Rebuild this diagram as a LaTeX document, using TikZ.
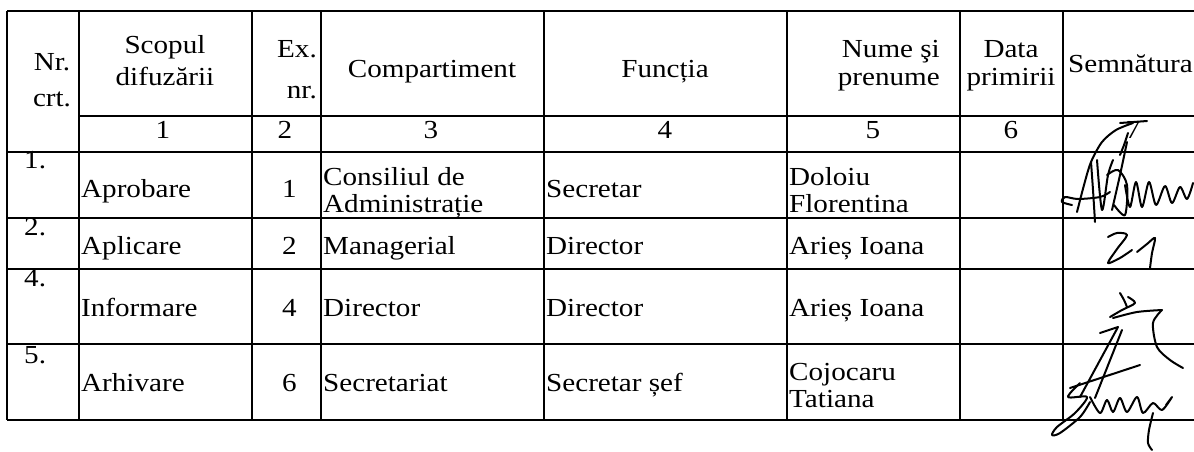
\documentclass[tikz,border=0pt]{standalone}
\usepackage{fontspec}
\setmainfont{Liberation Serif}[FakeStretch=1.12]

\tikzset{
  grid/.style={line width=1.6pt},
  txt/.style={inner sep=0pt, font=\fontsize{26}{30}\selectfont},
  lt/.style={txt, anchor=base west},
  ct/.style={txt, anchor=base},
  rt/.style={txt, anchor=base east},
  sig/.style={line width=2pt, line cap=round, line join=round},
}

\begin{document}
\begin{tikzpicture}[x=1pt,y=-1pt]
   \useasboundingbox (0,0) rectangle (1194,451);
   \foreach \y in {11,152,218,269,344,420} \draw[grid] (7,\y) -- (1194,\y);
   \draw[grid] (79,116) -- (1194,116);
   \foreach \x in {7,79,252,321,544,787,960,1063} \draw[grid] (\x,11) -- (\x,420);

   \node[ct] (nr)   at (52,70)   {Nr.};
   \node[ct] (crt)  at (52,106)  {crt.};
   \node[ct] (scop) at (165,53)  {Scopul};
   \node[ct] (dif)  at (165,85)  {difuzării};
   \node[rt] (ex)   at (317,57)  {Ex.};
   \node[rt] (exnr) at (317,98)  {nr.};
   \node[ct] (comp) at (432,77)  {Compartiment};
   \node[ct] (func) at (665,77)  {Funcția};
   \node[rt] (nume) at (940,57)  {Nume şi};
   \node[rt] (pren) at (940,85)  {prenume};
   \node[ct] (data) at (1011,57) {Data};
   \node[ct] (prim) at (1011,85) {primirii};
   \node[lt] (semn) at (1068,72) {Semnătura};
   \foreach \x/\n in {163/1,285/2,431/3,665/4,873/5,1011/6,1133/7}
      \node[ct] (col\n) at (\x,138) {\n};

   \node[lt] (nr1) at (24,168)  {1.};
   \node[lt] (sc1) at (81,197)  {Aprobare};
   \node[rt] (ex1) at (297,197) {1};
   \node[lt] (ca1) at (323,185) {Consiliul de};
   \node[lt] (cb1) at (323,212) {Administrație};
   \node[lt] (fn1) at (546,197) {Secretar};
   \node[lt] (pa1) at (789,185) {Doloiu};
   \node[lt] (pb1) at (789,212) {Florentina};

   \node[lt] (nr2) at (24,235)  {2.};
   \node[lt] (sc2) at (81,254)  {Aplicare};
   \node[rt] (ex2) at (297,254) {2};
   \node[lt] (cp2) at (323,254) {Managerial};
   \node[lt] (fn2) at (546,254) {Director};
   \node[lt] (pn2) at (789,254) {Arieș Ioana};

   \node[lt] (nr3) at (24,286)  {4.};
   \node[lt] (sc3) at (81,316)  {Informare};
   \node[rt] (ex3) at (297,316) {4};
   \node[lt] (cp3) at (323,316) {Director};
   \node[lt] (fn3) at (546,316) {Director};
   \node[lt] (pn3) at (789,316) {Arieș Ioana};

   \node[lt] (nr4) at (24,363)  {5.};
   \node[lt] (sc4) at (81,391)  {Arhivare};
   \node[rt] (ex4) at (297,391) {6};
   \node[lt] (cp4) at (323,391) {Secretariat};
   \node[lt] (fn4) at (546,391) {Secretar șef};
   \node[lt] (pa4) at (789,380) {Cojocaru};
   \node[lt] (pb4) at (789,407) {Tatiana};

   \draw[sig] plot[smooth] coordinates {(1077,212) (1084,185) (1091,162) (1102,142) (1116,130) (1133,123)};
   \draw[sig] (1120,123) -- (1147,121);
   \draw[sig] plot[smooth] coordinates {(1128,133) (1124,145) (1120,155)};
   \draw[sig] plot[smooth] coordinates {(1091,162) (1093,190) (1095,222)};
   \draw[sig] plot[smooth] coordinates {(1072,205) (1062,202) (1065,197) (1078,199) (1100,197) (1110,192)};
   \draw[sig] plot[smooth] coordinates {(1097,160) (1102,210) (1108,175) (1113,160)};
   \draw[sig] plot[smooth] coordinates {(1127,142) (1120,175) (1112,210)};
   \draw[sig] plot[smooth] coordinates {(1107,175) (1118,170) (1127,185) (1125,215) (1114,205)};
   \draw[sig] plot[smooth] coordinates {(1125,185) (1130,207) (1136,182) (1142,207) (1149,182) (1156,205) (1165,186) (1172,203) (1180,187) (1187,199) (1193,183)};

   \draw[sig] plot[smooth] coordinates {(1108,237) (1117,233) (1127,235) (1117,249) (1108,263) (1120,258) (1132,250)};
   \draw[sig] plot[smooth] coordinates {(1137,252) (1147,244) (1155,238) (1152,253) (1150,268)};

   \draw[sig] plot[smooth] coordinates {(1120,293) (1124,300) (1127,307)};
   \draw[sig] plot[smooth] coordinates {(1128,297) (1135,303) (1122,310) (1110,317)};
   \draw[sig] plot[smooth] coordinates {(1113,318) (1137,312) (1162,310)};
   \draw[sig] plot[smooth] coordinates {(1162,310) (1153,323) (1157,347) (1170,360) (1183,368)};
   \draw[sig] (1100,333) -- (1118,327) -- (1080,397);
   \draw[sig] (1122,330) -- (1095,398);
   \draw[sig] (1070,388) -- (1140,365);
   \draw[sig] plot[smooth] coordinates {(1080,383) (1068,397) (1087,397) (1075,413) (1057,427) (1052,435) (1060,433) (1080,417) (1090,402)};
   \draw[sig] plot[smooth] coordinates {(1090,397) (1100,413) (1107,400) (1113,412) (1120,398) (1127,412) (1137,397) (1143,413) (1153,403) (1162,410) (1172,397) (1166,405)};
   \draw[sig] plot[smooth] coordinates {(1153,413) (1149,430) (1148,443) (1152,450)};
\end{tikzpicture}
\end{document}
